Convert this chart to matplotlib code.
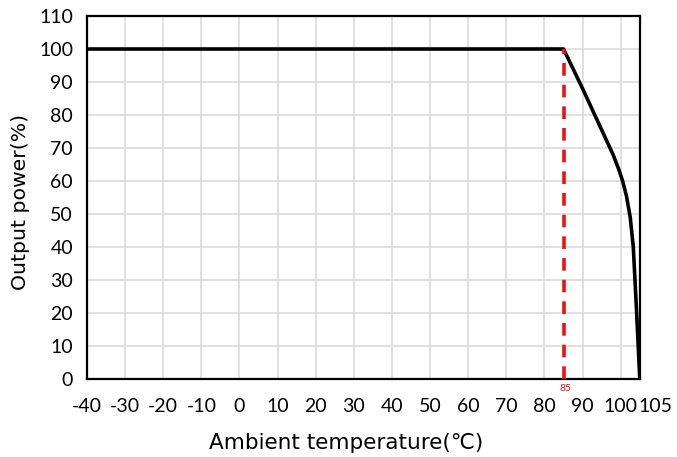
import matplotlib
matplotlib.use("Agg")
import matplotlib.pyplot as plt
import matplotlib.transforms as mtransforms

temps = [-40, 85, 90, 95, 98, 99.5, 100.5, 101.5, 102.5, 103.3, 104.1, 105]
power = [100, 100, 88, 75.5, 68, 63.5, 60, 55.5, 49, 40, 22, 0]
x_ticks = [-40, -30, -20, -10, 0, 10, 20, 30, 40, 50, 60, 70, 80, 90, 100, 105]
y_ticks = [0, 10, 20, 30, 40, 50, 60, 70, 80, 90, 100, 110]
derate_temp = 85
derate_power = 100

plt.rcParams['font.family'] = ['Lato', 'DejaVu Sans']
fig = plt.figure(figsize=(6.77, 4.57), dpi=100)
ax = fig.add_axes([0.1285, 0.1707, 0.945 - 0.1285, 0.965 - 0.1707])

ax.plot(temps, power, color='black', lw=2.6, solid_joinstyle='round', zorder=3)
ax.plot([derate_temp, derate_temp], [0, derate_power], color='#ee1111', lw=2.6,
        dashes=(3.5, 2.5), zorder=4)

ax.set_xlim(-40, 105)
ax.set_ylim(0, 110)
ax.set_xticks(x_ticks)
ax.set_yticks(y_ticks)
ax.set_xticklabels([str(t) for t in x_ticks], fontsize=14)
ax.set_yticklabels([str(t) for t in y_ticks], fontsize=14)
ax.tick_params(axis='x', length=0, pad=14)
ax.tick_params(axis='y', length=0, pad=10)
ax.grid(True, color='#d9d9d9', lw=1.1, zorder=0)
ax.set_axisbelow(True)
for s in ax.spines.values():
    s.set_color('black')
    s.set_linewidth(1.6)

# spread the last two crowded tick labels
lbls = ax.get_xticklabels()
lbls[-1].set_transform(lbls[-1].get_transform() +
                       mtransforms.ScaledTranslation(16 / 100, 0, fig.dpi_scale_trans))

ax.text(derate_temp + 0.5, -1.5, str(derate_temp), color='#ee1111', fontsize=7.5,
        ha='center', va='top')

ax.set_xlabel('Ambient temperature(℃)', fontsize=15.5, family=['DejaVu Sans'])
ax.set_ylabel('Output power(%)', fontsize=14.7, family=['DejaVu Sans'])
ax.xaxis.set_label_coords((346 - 87) / 553, (379 - 443) / 363)
ax.yaxis.set_label_coords((20 - 87) / 553, (379 - 202) / 363)
ax.xaxis.label.set_va('center')
ax.yaxis.label.set_va('center')

fig.savefig('out.png', dpi=100)
